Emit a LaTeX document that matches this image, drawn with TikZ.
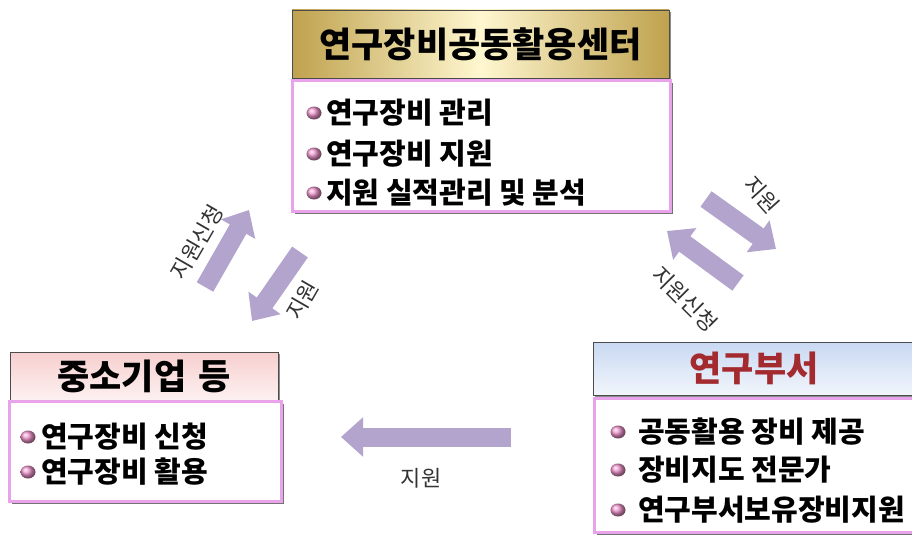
\documentclass[tikz,border=0pt]{standalone}
\usepackage{fontspec}
\newfontfamily\kr{Noto Sans CJK KR}
\usetikzlibrary{arrows.meta,shadows,shapes.geometric}
\definecolor{arrowc}{HTML}{B3A4CE}
\definecolor{pinkline}{HTML}{E9A3EA}
\definecolor{golddark}{HTML}{BFA24E}
\definecolor{goldlight}{HTML}{FFF7D0}
\definecolor{pinkhead}{HTML}{F7CFCF}
\definecolor{bluehead}{HTML}{C9D9F2}
\definecolor{redtext}{HTML}{A32A2E}
\definecolor{bulletc}{HTML}{EE95CB}
\definecolor{labelc}{HTML}{333333}
\tikzset{
  headbox/.style={draw=black!70, line width=0.8pt, inner sep=0pt, font=\kr\bfseries\fontsize{35}{37}\selectfont,
    general shadow={shadow xshift=2pt, shadow yshift=-2pt, fill=black!45}},
  bodybox/.style={draw=pinkline, line width=3pt, fill=white, inner sep=0pt,
    general shadow={shadow xshift=2.5pt, shadow yshift=-2.5pt, fill=black!55}},
  item/.style={anchor=west, inner sep=0pt, font=\kr\bfseries\fontsize{29}{31}\selectfont},
  bul/.style={ellipse, inner sep=0pt, minimum width=15pt, minimum height=13pt, shading=ball, ball color=bulletc},
  blockarrow/.style={draw=arrowc, line width=19pt, -{Triangle[width=38pt,length=22pt]}},
  lbl/.style={inner sep=0pt, text=labelc, font=\kr\fontsize{22}{24}\selectfont}
}
\begin{document}
\begin{tikzpicture}[x=1pt,y=-1pt]
\useasboundingbox (0,0) rectangle (912,535);
% top
\node[headbox, left color=golddark, right color=golddark, middle color=goldlight,
  minimum width=377pt, minimum height=68pt] (tophead) at (480.5,44) {연구장비공동활용센터};
\node[bodybox, minimum width=378pt, minimum height=131pt] (topbody) at (481,145.5) {};
\node[bul] (tb1) at (314,113) {};
\node[item] (ti1) at (326,113) {연구장비 관리};
\node[bul] (tb2) at (314,154) {};
\node[item] (ti2) at (326,154) {연구장비 지원};
\node[bul] (tb3) at (314,193) {};
\node[item] (ti3) at (326,193) {지원 실적관리 및 분석};
% left
\node[headbox, top color=pinkhead, bottom color=pinkhead!30, minimum width=268pt, minimum height=48pt]
  (lefthead) at (144,376) {중소기업\hspace{12pt}등};
\node[bodybox, minimum width=272pt, minimum height=100pt] (leftbody) at (145,451) {};
\node[bul] (lb1) at (28,437) {};
\node[item] (li1) at (41,437) {연구장비 신청};
\node[bul] (lb2) at (28,472) {};
\node[item] (li2) at (41,472) {연구장비 활용};
% right
\node[headbox, top color=bluehead, bottom color=bluehead!25, text=redtext, minimum width=322pt, minimum height=53pt]
  (righthead) at (754,368.5) {연구부서};
\node[bodybox, minimum width=320pt, minimum height=134pt] (rightbody) at (754,465) {};
\node[bul] (rb1) at (618,432) {};
\node[item] (ri1) at (638,432) {공동활용 장비 제공};
\node[bul] (rb2) at (618,470) {};
\node[item] (ri2) at (638,470) {장비지도 전문가};
\node[bul] (rb3) at (618,510) {};
\node[item] (ri3) at (638,510) {연구부서보유장비지원};
% arrows
\coordinate (a1s) at (205,287); \coordinate (a1e) at (249,210);
\coordinate (a2s) at (300,252); \coordinate (a2e) at (252,321);
\coordinate (a3s) at (706,199); \coordinate (a3e) at (776,249);
\coordinate (a4s) at (738,283); \coordinate (a4e) at (667,231);
\coordinate (a5s) at (511,437); \coordinate (a5e) at (341,437);
\draw[blockarrow] (a1s) -- (a1e);
\draw[blockarrow] (a2s) -- (a2e);
\draw[blockarrow] (a3s) -- (a3e);
\draw[blockarrow] (a4s) -- (a4e);
\draw[blockarrow] (a5s) -- (a5e);
\node[lbl, rotate=60] (l1) at (197,242) {지원신청};
\node[lbl, rotate=60] (l2) at (302,300) {지원};
\node[lbl, rotate=-48] (l3) at (762,195) {지원};
\node[lbl, rotate=-45] (l4) at (685,299) {지원신청};
\node[lbl] (l5) at (421,478) {지원};
\end{tikzpicture}
\end{document}
